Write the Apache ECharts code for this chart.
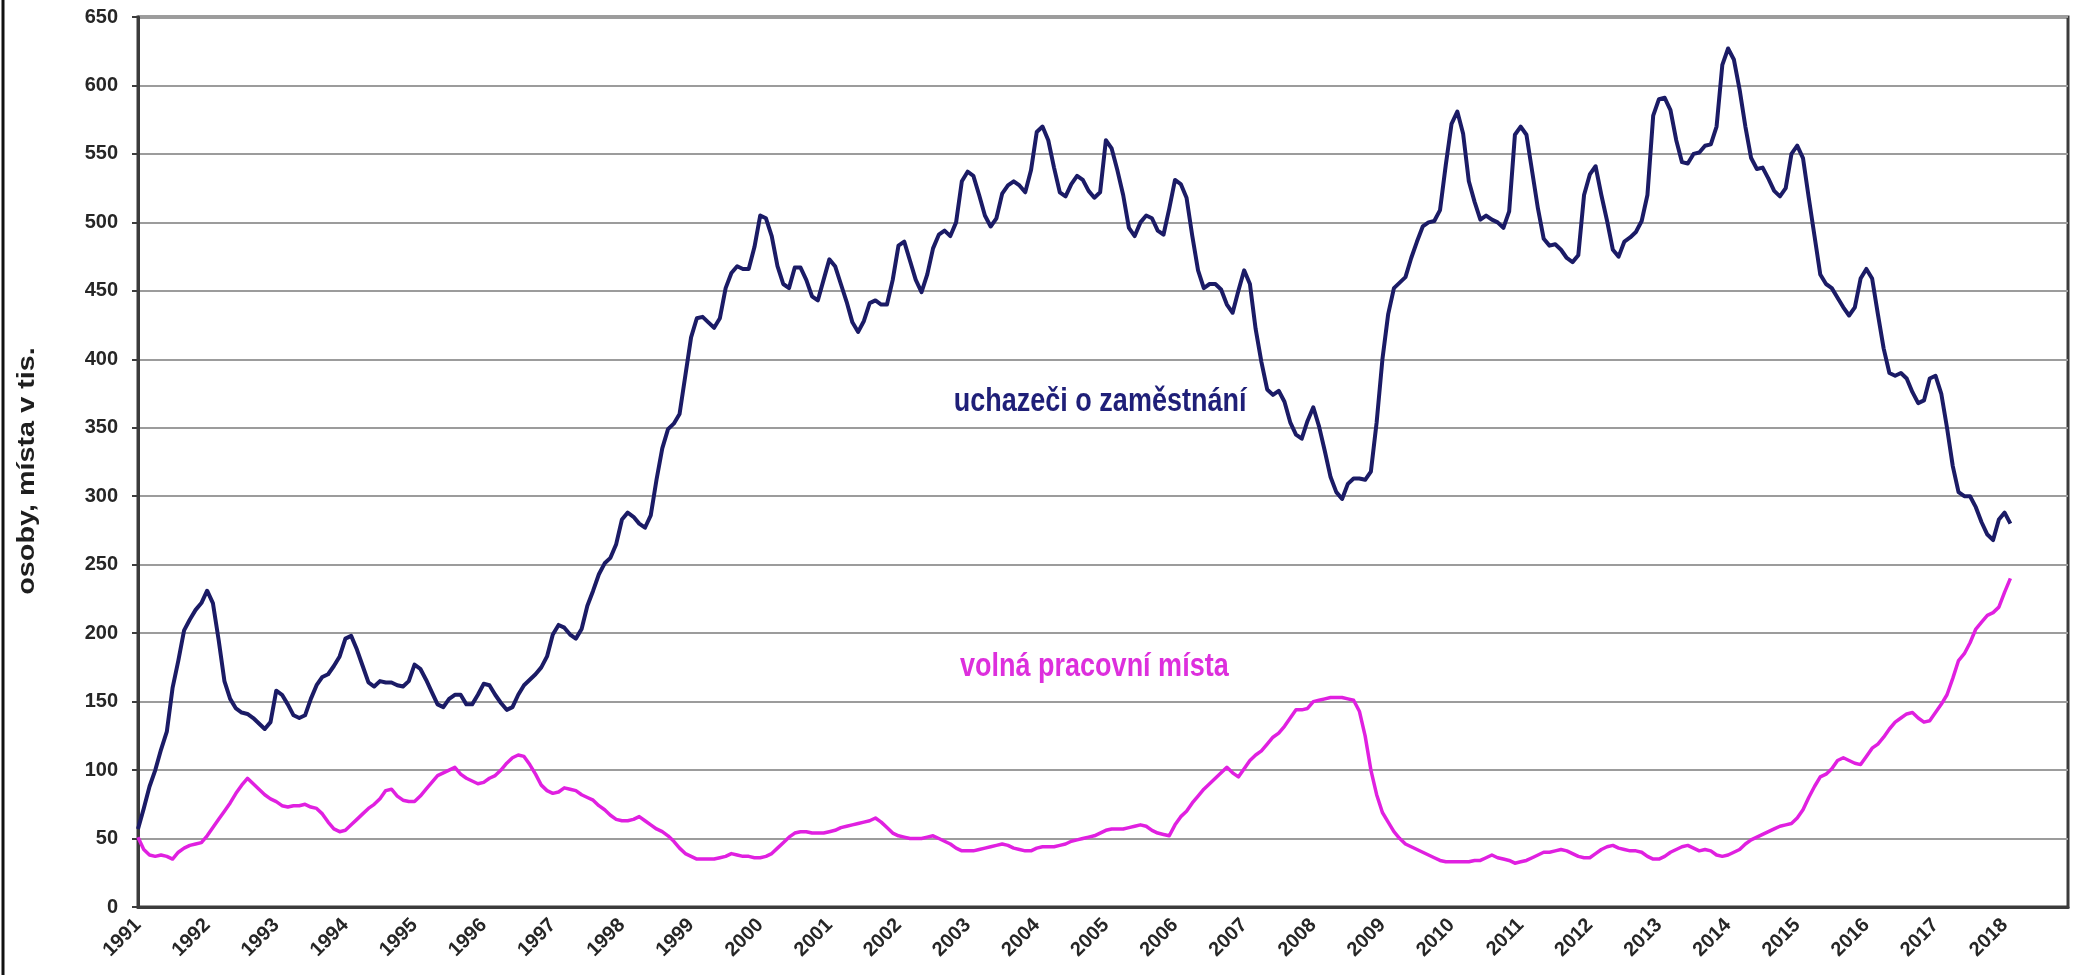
<!DOCTYPE html>
<html>
<head>
<meta charset="utf-8">
<title>Uchazeči o zaměstnání a volná pracovní místa</title>
<script src="https://cdn.jsdelivr.net/npm/echarts@6/dist/echarts.min.js"></script>
<style>
  html, body { margin: 0; padding: 0; background: #fff; }
  #chart { width: 2078px; height: 975px; }
</style>
</head>
<body>
<div id="chart"></div>
<script>
// tick labels (one per January)
const years = ['1991', '1992', '1993', '1994', '1995', '1996', '1997', '1998', '1999', '2000',
  '2001', '2002', '2003', '2004', '2005', '2006', '2007', '2008', '2009', '2010',
  '2011', '2012', '2013', '2014', '2015', '2016', '2017', '2018']
const monthNums = ['01', '02', '03', '04', '05', '06', '07', '08', '09', '10', '11', '12']
// monthly categories 1991-01 .. 2018-12
const months = years.flatMap((y) => monthNums.map((m) => y + '-' + m))

// uchazeči o zaměstnání, tis. osob (monthly, 1991-01 .. 2018-02)
const uchazeci = [
  57, 72, 88, 100, 115, 128, 160, 180, 202, 210, 217, 222, // 1991
  231, 222, 195, 165, 152, 145, 142, 141, 138, 134, 130, 135, // 1992
  158, 155, 148, 140, 138, 140, 152, 162, 168, 170, 176, 183, // 1993
  196, 198, 188, 176, 164, 161, 165, 164, 164, 162, 161, 165, // 1994
  177, 174, 166, 157, 148, 146, 152, 155, 155, 148, 148, 155, // 1995
  163, 162, 155, 149, 144, 146, 155, 162, 166, 170, 175, 183, // 1996
  199, 206, 204, 199, 196, 203, 220, 231, 243, 251, 255, 265, // 1997
  283, 288, 285, 280, 277, 286, 312, 335, 349, 353, 360, 388, // 1998
  416, 430, 431, 427, 423, 430, 452, 463, 468, 466, 466, 482, // 1999
  505, 503, 490, 468, 455, 452, 467, 467, 458, 446, 443, 458, // 2000
  473, 468, 455, 442, 427, 420, 428, 441, 443, 440, 440, 458, // 2001
  483, 486, 472, 458, 449, 462, 481, 491, 494, 490, 500, 530, // 2002
  537, 534, 520, 505, 497, 503, 521, 527, 530, 527, 522, 538, // 2003
  566, 570, 560, 540, 522, 519, 528, 534, 531, 523, 518, 522, // 2004
  560, 554, 538, 520, 496, 490, 500, 505, 503, 494, 491, 510, // 2005
  531, 528, 518, 490, 465, 452, 455, 455, 451, 440, 434, 450, // 2006
  465, 455, 422, 398, 378, 374, 377, 369, 354, 345, 342, 355, // 2007
  365, 351, 333, 314, 303, 298, 309, 313, 313, 312, 318, 354, // 2008
  400, 433, 452, 456, 460, 474, 486, 497, 500, 501, 509, 542, // 2009
  572, 581, 565, 530, 515, 502, 505, 502, 500, 496, 508, 564, // 2010
  570, 564, 537, 510, 488, 483, 484, 480, 474, 471, 476, 520, // 2011
  535, 541, 520, 501, 480, 475, 486, 489, 493, 501, 520, 578, // 2012
  590, 591, 582, 560, 544, 543, 550, 551, 556, 557, 570, 615, // 2013
  627, 619, 597, 570, 547, 539, 540, 532, 523, 519, 525, 550, // 2014
  556, 547, 518, 490, 462, 455, 452, 445, 438, 432, 438, 459, // 2015
  466, 459, 433, 408, 390, 388, 390, 386, 376, 368, 370, 386, // 2016
  388, 375, 350, 322, 303, 300, 300, 292, 281, 272, 268, 283, // 2017
  288, 280 // 2018
]

// volná pracovní místa, tis. (monthly, 1991-01 .. 2018-02)
const volnaMista = [
  51, 42, 38, 37, 38, 37, 35, 40, 43, 45, 46, 47, // 1991
  52, 58, 64, 70, 76, 83, 89, 94, 90, 86, 82, 79, // 1992
  77, 74, 73, 74, 74, 75, 73, 72, 68, 62, 57, 55, // 1993
  56, 60, 64, 68, 72, 75, 79, 85, 86, 81, 78, 77, // 1994
  77, 81, 86, 91, 96, 98, 100, 102, 97, 94, 92, 90, // 1995
  91, 94, 96, 100, 105, 109, 111, 110, 104, 97, 89, 85, // 1996
  83, 84, 87, 86, 85, 82, 80, 78, 74, 71, 67, 64, // 1997
  63, 63, 64, 66, 63, 60, 57, 55, 52, 48, 43, 39, // 1998
  37, 35, 35, 35, 35, 36, 37, 39, 38, 37, 37, 36, // 1999
  36, 37, 39, 43, 47, 51, 54, 55, 55, 54, 54, 54, // 2000
  55, 56, 58, 59, 60, 61, 62, 63, 65, 62, 58, 54, // 2001
  52, 51, 50, 50, 50, 51, 52, 50, 48, 46, 43, 41, // 2002
  41, 41, 42, 43, 44, 45, 46, 45, 43, 42, 41, 41, // 2003
  43, 44, 44, 44, 45, 46, 48, 49, 50, 51, 52, 54, // 2004
  56, 57, 57, 57, 58, 59, 60, 59, 56, 54, 53, 52, // 2005
  60, 66, 70, 76, 81, 86, 90, 94, 98, 102, 98, 95, // 2006
  101, 107, 111, 114, 119, 124, 127, 132, 138, 144, 144, 145, // 2007
  150, 151, 152, 153, 153, 153, 152, 151, 143, 125, 100, 82, // 2008
  69, 62, 55, 50, 46, 44, 42, 40, 38, 36, 34, 33, // 2009
  33, 33, 33, 33, 34, 34, 36, 38, 36, 35, 34, 32, // 2010
  33, 34, 36, 38, 40, 40, 41, 42, 41, 39, 37, 36, // 2011
  36, 39, 42, 44, 45, 43, 42, 41, 41, 40, 37, 35, // 2012
  35, 37, 40, 42, 44, 45, 43, 41, 42, 41, 38, 37, // 2013
  38, 40, 42, 46, 49, 51, 53, 55, 57, 59, 60, 61, // 2014
  65, 71, 80, 88, 95, 97, 101, 107, 109, 107, 105, 104, // 2015
  110, 116, 119, 124, 130, 135, 138, 141, 142, 138, 135, 136, // 2016
  142, 148, 155, 167, 180, 185, 193, 203, 208, 213, 215, 219, // 2017
  230, 240 // 2018
]

// in-chart series captions, anchored in data coordinates [month index, value]
const captions = [
  { text: 'uchazeči o zaměstnání', at: [167, 369], color: '#1f1f78' },
  { text: 'volná pracovní místa', at: [166, 175], color: '#dd2fdd' },
]

const FONT = '"Liberation Sans", Arial, Helvetica, sans-serif'
const chart = echarts.init(document.getElementById('chart'), null, { renderer: 'canvas' })

const option = {
  animation: false,
  backgroundColor: '#ffffff',
  textStyle: { fontFamily: FONT },
  grid: {
    left: 138,
    right: 10,
    top: 17,
    bottom: 68,
    show: true,
    borderColor: '#3c3c3c',
    borderWidth: 3,
  },
  xAxis: {
    type: 'category',
    data: months,
    boundaryGap: false,
    axisLine: { lineStyle: { color: '#3c3c3c', width: 3 } },
    axisTick: { show: false },
    axisLabel: {
      interval: (i) => i % 12 === 0,
      rotate: 45,
      margin: 15,
      fontFamily: FONT,
      fontSize: 20,
      fontWeight: 'bold',
      color: '#262626',
      formatter: (v, i) => (i % 12 === 0 ? years[i / 12] : ''),
    },
    splitLine: { show: false },
  },
  yAxis: {
    type: 'value',
    min: 0,
    max: 650,
    interval: 50,
    axisLine: { show: true, lineStyle: { color: '#3c3c3c', width: 3 } },
    axisTick: { show: true, length: 6, lineStyle: { color: '#3c3c3c', width: 2 } },
    axisLabel: {
      margin: 20,
      fontFamily: FONT,
      fontSize: 20,
      fontWeight: 'bold',
      color: '#262626',
    },
    splitLine: { lineStyle: { color: '#9c9c9c', width: 2 } },
  },
  series: [
    {
      name: 'uchazeči o zaměstnání',
      type: 'line',
      data: uchazeci,
      symbol: 'none',
      lineStyle: { color: '#1b1b66', width: 4, join: 'round' },
      z: 3,
    },
    {
      name: 'volná pracovní místa',
      type: 'line',
      data: volnaMista,
      symbol: 'none',
      lineStyle: { color: '#e020e0', width: 3.5, join: 'round' },
      z: 2,
    },
  ],
}

chart.setOption(option)

// captions and the rotated axis title as graphic text
const graphics = captions.map((c) => {
  const [px, py] = chart.convertToPixel({ gridIndex: 0 }, c.at)
  return {
    type: 'text',
    x: px,
    y: py,
    scaleY: 1.2,
    style: {
      text: c.text,
      fill: c.color,
      font: 'bold 27px ' + FONT,
      align: 'center',
      verticalAlign: 'middle',
    },
    z: 10,
  }
})
graphics.push({
  type: 'text',
  x: 27,
  y: 471,
  rotation: Math.PI / 2,
  scaleX: 1.2,
  style: {
    text: 'osoby, místa v tis.',
    fill: '#1e1e1e',
    font: 'bold 24px ' + FONT,
    align: 'center',
    verticalAlign: 'middle',
  },
})
// left frame edge of the original picture
graphics.push({
  type: 'line',
  shape: { x1: 3, y1: 0, x2: 3, y2: 975 },
  style: { stroke: '#111', lineWidth: 3 },
})
chart.setOption({ graphic: graphics })
</script>
</body>
</html>
